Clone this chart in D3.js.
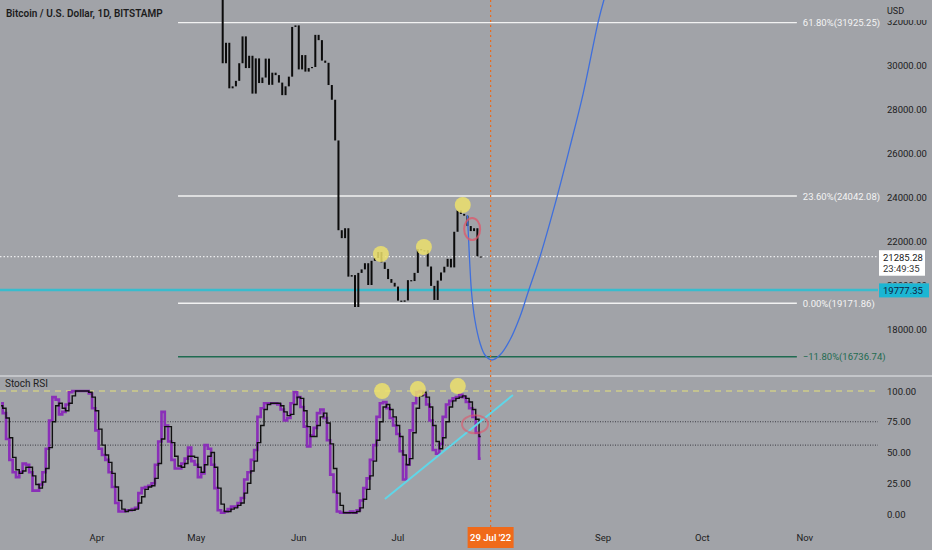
<!DOCTYPE html>
<html><head><meta charset="utf-8">
<script src="https://cdn.jsdelivr.net/npm/d3@7"></script>
<style>
html,body{margin:0;padding:0;background:#a1a3a8;}
svg{display:block;font-family:Roboto,"Noto Sans",sans-serif;}
</style></head><body>
<svg id="c" width="932" height="550"></svg>
<script>
// ---------- data ----------
const title = "Bitcoin / U.S. Dollar, 1D, BITSTAMP";
const candleStart = "2022-05-09";
const firstOpen = 34060;
const candleClose = [
  30080,31010,28940,29030,29280,30080,31300,29860,30420,28700,30300,29180,29430,30290,29100,29650,29540,29200,28630,29030,29470,31730,31800,
  29800,30450,29700,29860,29910,31370,31130,30200,30100,29090,28420,26570,22490,22130,22580,20380,20450,19000,20550,20710,20990,20000,21100,21230,21500,21030,20730,20270,20100,19930,
  19290,19240,19300,20220,20180,20550,21630,21580,21580,20840,19960,19320,20200,20570,20830,21190,20800,22420,23390,23230,23150,22680,22450,22580,21300,21285
];
const stochStart = "2022-03-03";
const stochK = [
  90,82,61,44,34,30,34,41,40,34, 19,19,24,34,53,76,95,93,81,83, 89,99,100,100,100,100,100,98,86,
  68,53,48,44,34,22,9,2,2,3, 3,4,5,17,21,22,23,25,40,59, 83,72,59,44,37,37,41,45,54,43,
  40,30,33,56,53,40,21,3,1,2, 4,6,6,9,13,28,34,44,52,79, 86,90,90,90,90,89,85,76,78,90,
  99,95,87,71,55,64,70,82,85,78, 60,32,18,2,1,1,1,2,1,3, 11,21,29,44,56,79,90,91,86,78,
  72,65,51,28,40,68,90,99,100,97, 89,76,52,49,57,79,89,92,94,95, 97,95,91,86,79,66,45
];
const stochD = [
  88,86,78,62,46,36,33,35,38,38, 31,24,21,26,37,54,75,88,90,86, 84,90,96,100,100,100,100,99,95,
  84,69,56,48,42,33,22,11,4,2, 3,3,4,9,14,20,22,23,29,41, 61,71,71,58,47,39,38,41,47,47,
  46,38,34,40,47,50,38,21,8,2, 2,4,5,7,9,17,25,35,43,58, 72,85,89,90,90,90,88,83,80,81,
  89,95,94,84,71,63,63,72,79,82, 74,57,37,17,7,1,1,1,1,2, 5,12,20,31,43,60,75,87,89,85,
  79,72,63,48,40,45,66,86,96,99, 95,87,72,59,53,62,75,87,92,94, 95,96,94,91,85,77,63
];
const priceTicks = [18000,20000,22000,24000,26000,28000,30000,32000];
const stochTicks = [0,25,50,75,100];
const stochBands = [75,56];
const stochTop = 100;
const monthTicks = ["2022-04-01","2022-05-01","2022-06-01","2022-07-01","2022-09-01","2022-10-01","2022-11-01"];
const monthLabels = ["Apr","May","Jun","Jul","Sep","Oct","Nov"];
const fibLabels = ["61.80%","23.60%","0.00%","\u221211.80%"];
const fibValues = [31925.25,24042.08,19171.86,16736.74];
const fibFromDay = 24.5, fibToDay = 211.6; // days after 2022-04-01
const lastPrice = 21285.28, countdown = "23:49:35";
const supportLevel = 19777.35;
const markerDate = "2022-07-29", markerLabel = "29 Jul '22";
// projected curve: days after candleStart, price
const projDays  = [73.94,74.25,74.76,75.27,76.27,77.78,79.29,81.32,83.83,86.85,89.87,92.38,95.92,100.97,104.99,109.01,113.55,115.27,116.2];
const projPrice = [23182,22364,20818,19636,18409,17364,16818,16591,16818,17500,18559,19695,21286,23941,26286,28714,31968,32955,33409];
// annotations (days after 2022-04-01)
const priceDots = [[85.85,21409],[98.85,21727],[110.6,23636]];
const stochDots = [[86.2,100],[97,101.6],[109.1,104]];
const priceRing = [113.4,22545];
const stochRing = [114.3,73];
const trendLine = [[87.06,12.2],[125.76,96.7]];

// ---------- setup ----------
const svg = d3.select("#c");
const W = 932, H = 550, plotR = 878;
const priceTop = 0, priceBot = 375, stochTopY = 377, stochBot = 527;
const base = new Date("2022-04-01T00:00Z");
const x = d3.scaleUtc().domain([base, new Date("2022-07-01T00:00Z")]).range([97, 398]);
const dayX = d => x(d3.utcHour.offset(base, Math.round(d*24)));
const yP = d3.scaleLinear().domain([18000, 32000]).range([329, 21]);
const yS = d3.scaleLinear().domain([0, 100]).range([514, 391]);

const defs = svg.append("defs");
defs.append("clipPath").attr("id","cp").append("rect").attr("x",0).attr("y",priceTop).attr("width",plotR).attr("height",priceBot-priceTop);
defs.append("clipPath").attr("id","cs").append("rect").attr("x",0).attr("y",stochTopY).attr("width",plotR).attr("height",stochBot-stochTopY);
defs.append("clipPath").attr("id","c20").append("rect").attr("x",880).attr("y",0).attr("width",52).attr("height",yP(supportLevel)-6.5);

svg.append("rect").attr("width",W).attr("height",H).attr("fill","#a1a3a8");

// pane separator
svg.append("line").attr("x1",0).attr("x2",W).attr("y1",376).attr("y2",376).attr("stroke","#c4c6ca").attr("stroke-width",2);

// ---------- price pane ----------
const gp = svg.append("g").attr("clip-path","url(#cp)");

fibValues.forEach((v,i)=>{
  const col = i===3 ? "#1f6b50" : "#f2f2f2";
  gp.append("line").attr("x1",dayX(fibFromDay)).attr("x2",dayX(fibToDay))
    .attr("y1",yP(v)).attr("y2",yP(v)).attr("stroke",col).attr("stroke-width",1.4);
  svg.append("text").attr("x",dayX(fibToDay)+6).attr("y",yP(v)+3.5)
    .attr("font-size",9.5).attr("fill", i===3 ? "#1f6b50" : "#f4f4f4")
    .text(`${fibLabels[i]}(${v.toFixed(2)})`);
});

gp.append("line").attr("x1",0).attr("x2",plotR).attr("y1",yP(supportLevel)).attr("y2",yP(supportLevel))
  .attr("stroke","#38bccd").attr("stroke-width",2.5);
gp.append("line").attr("x1",0).attr("x2",plotR).attr("y1",yP(lastPrice)).attr("y2",yP(lastPrice))
  .attr("stroke","#ffffff").attr("stroke-width",1).attr("stroke-dasharray","1.5,2");

const cStart = new Date(candleStart+"T00:00Z");
const candles = candleClose.map((c,i)=>({d:d3.utcDay.offset(cStart,i), o: i===0?firstOpen:candleClose[i-1], c}));
gp.selectAll("rect.cdl").data(candles).join("rect").attr("class","cdl")
  .attr("x",d=>x(d.d)-1).attr("width",2)
  .attr("y",d=>yP(Math.max(d.o,d.c)))
  .attr("height",d=>Math.max(1.2, Math.abs(yP(d.o)-yP(d.c))))
  .attr("fill","#0b0b0b");

const proj = projDays.map((d,i)=>[x(d3.utcHour.offset(cStart, Math.round(d*24))), yP(projPrice[i])]);
gp.append("path").attr("d", d3.line().curve(d3.curveCatmullRom.alpha(0.5))(proj))
  .attr("fill","none").attr("stroke","#3f6fdc").attr("stroke-width",1.3);

gp.selectAll("circle.pd").data(priceDots).join("circle").attr("class","pd")
  .attr("cx",d=>dayX(d[0])).attr("cy",d=>yP(d[1])).attr("r",8)
  .attr("fill","#ece06c").attr("opacity",0.85);
gp.append("ellipse").attr("cx",dayX(priceRing[0])).attr("cy",yP(priceRing[1])).attr("rx",8).attr("ry",11)
  .attr("fill","none").attr("stroke","#e0566a").attr("stroke-width",2).attr("opacity",0.75);

// ---------- stoch pane ----------
const gs = svg.append("g").attr("clip-path","url(#cs)");
gs.append("line").attr("x1",0).attr("x2",plotR).attr("y1",yS(stochTop)).attr("y2",yS(stochTop))
  .attr("stroke","#e6e27a").attr("stroke-width",1.2).attr("stroke-dasharray","6,5");
stochBands.forEach(b=>{
  gs.append("line").attr("x1",0).attr("x2",plotR).attr("y1",yS(b)).attr("y2",yS(b))
    .attr("stroke","#3c3c44").attr("stroke-width",1).attr("stroke-dasharray","1,1.5");
});
const sStart = new Date(stochStart+"T00:00Z");
const sLine = d3.line().curve(d3.curveStep).x((d,i)=>x(d3.utcDay.offset(sStart,i))).y(d=>yS(d));
gs.append("path").attr("d",sLine(stochK)).attr("fill","none").attr("stroke","#8a2fb8").attr("stroke-width",2.6);
gs.append("path").attr("d",sLine(stochD)).attr("fill","none").attr("stroke","#101010").attr("stroke-width",1.4);

gs.append("line").attr("x1",dayX(trendLine[0][0])).attr("y1",yS(trendLine[0][1]))
  .attr("x2",dayX(trendLine[1][0])).attr("y2",yS(trendLine[1][1]))
  .attr("stroke","#5fd6e8").attr("stroke-width",2);
gs.selectAll("circle.sd").data(stochDots).join("circle").attr("class","sd")
  .attr("cx",d=>dayX(d[0])).attr("cy",d=>yS(d[1])).attr("r",8)
  .attr("fill","#ece06c").attr("opacity",0.85);
gs.append("ellipse").attr("cx",dayX(stochRing[0])).attr("cy",yS(stochRing[1])).attr("rx",13).attr("ry",9)
  .attr("fill","none").attr("stroke","#e0566a").attr("stroke-width",2).attr("opacity",0.6);

svg.append("text").attr("x",5).attr("y",387).attr("font-size",10).attr("fill","#1e1e1e").text("Stoch RSI");

// ---------- marker vertical ----------
const mx = x(new Date(markerDate+"T00:00Z"));
svg.append("line").attr("x1",mx).attr("x2",mx).attr("y1",0).attr("y2",527)
  .attr("stroke","#ee6a1c").attr("stroke-width",1.2).attr("stroke-dasharray","2,3");

// ---------- axes ----------
priceTicks.forEach(t=>{
  const tx = svg.append("text").attr("x",887).attr("y",yP(t)+3.5).attr("font-size",9.5).attr("fill","#202020").text(t.toFixed(2));
  if (t===20000) tx.attr("clip-path","url(#c20)");
});
svg.append("rect").attr("x",880).attr("y",0).attr("width",52).attr("height",20).attr("fill","#a1a3a8");
svg.append("text").attr("x",887).attr("y",14).attr("font-size",9).attr("fill","#202020").text("USD");

svg.append("rect").attr("x",879).attr("y",yP(lastPrice)-6.5).attr("width",46).attr("height",25.5).attr("fill","#ffffff");
svg.append("text").attr("x",883).attr("y",yP(lastPrice)+4).attr("font-size",9.5).attr("fill","#1a1a1a").text(lastPrice.toFixed(2));
svg.append("text").attr("x",883).attr("y",yP(lastPrice)+15.5).attr("font-size",9.5).attr("fill","#333").text(countdown);
svg.append("rect").attr("x",879).attr("y",yP(supportLevel)-6.5).attr("width",50).attr("height",14).attr("fill","#1bb6d3");
svg.append("text").attr("x",883).attr("y",yP(supportLevel)+3.8).attr("font-size",9.5).attr("fill","#102040").text(supportLevel.toFixed(2));

stochTicks.forEach(t=>{
  svg.append("text").attr("x",887).attr("y",yS(t)+3.5).attr("font-size",9.5).attr("fill","#202020").text(t.toFixed(2));
});

monthTicks.forEach((m,i)=>{
  svg.append("text").attr("x",x(new Date(m+"T00:00Z"))).attr("y",541).attr("text-anchor","middle")
    .attr("font-size",9.5).attr("fill","#202020").text(monthLabels[i]);
});
svg.append("rect").attr("x",mx-23).attr("y",527).attr("width",46).attr("height",21).attr("fill","#f06a1a");
svg.append("text").attr("x",mx).attr("y",541).attr("text-anchor","middle").attr("font-size",9.5)
  .attr("font-weight",600).attr("fill","#ffffff").text(markerLabel);

svg.append("text").attr("x",6).attr("y",17).attr("font-size",10).attr("font-weight",600).attr("fill","#1c1c1c").text(title);
</script>
</body></html>
